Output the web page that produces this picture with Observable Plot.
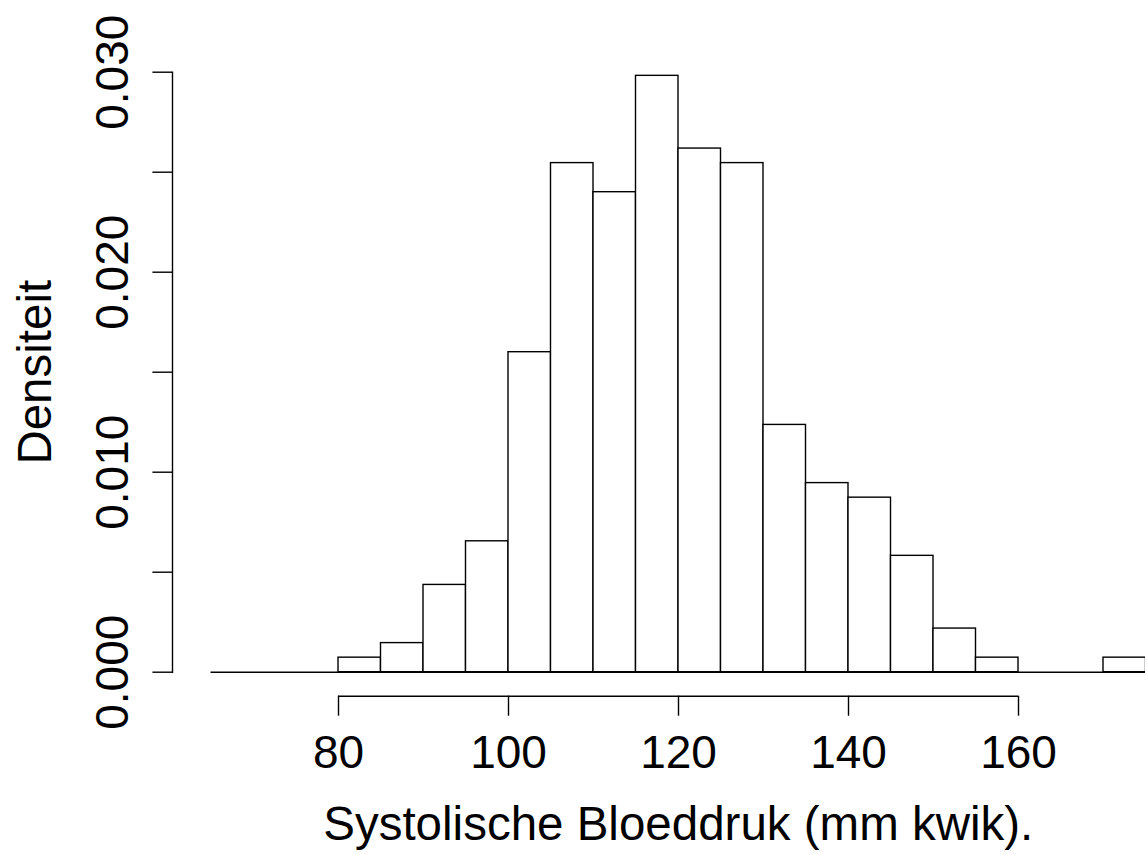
<!DOCTYPE html>
<html>
<head>
<meta charset="utf-8">
<script src="https://cdn.jsdelivr.net/npm/d3@7"></script>
<script src="https://cdn.jsdelivr.net/npm/@observablehq/plot@0.6"></script>
<style>
  html, body { margin: 0; padding: 0; background: #fff; }
  #chart svg { display: block; }
</style>
</head>
<body>
<div id="chart"></div>
<script>
// Histogram bins (mm kwik) and densities
const binLo = [65, 70, 75, 80, 85, 90, 95, 100, 105, 110, 115, 120, 125, 130, 135, 140, 145, 150, 155, 160, 165, 170];
const binHi = [70, 75, 80, 85, 90, 95, 100, 105, 110, 115, 120, 125, 130, 135, 140, 145, 150, 155, 160, 165, 170, 175];
const density = [0, 0, 0, 0.000727, 0.001455, 0.004364, 0.006545, 0.016000, 0.025455, 0.024000, 0.029818,
                 0.026182, 0.025455, 0.012364, 0.009455, 0.008727, 0.005818, 0.002182, 0.000727, 0, 0, 0.000727];
const xTicks = [80, 100, 120, 140, 160];
const yTicks = [0, 0.005, 0.010, 0.015, 0.020, 0.025, 0.030];
const yLabelTicks = [0, 0.010, 0.020, 0.030];
const xTitle = "Systolische Bloeddruk (mm kwik).";
const yTitle = "Densiteit";

const bins = binLo.map((lo, i) => ({lo, hi: binHi[i], d: density[i]}));
const font = "'Liberation Sans', Arial, Helvetica, sans-serif";
const fs = 46;
const fsTitle = 47.5;

const chart = Plot.plot({
  width: 1145,
  height: 855,
  marginLeft: 210.5,
  marginRight: 0,
  marginTop: 71.7,
  marginBottom: 183.3,
  style: {fontFamily: font, background: "white", color: "black", overflow: "visible"},
  x: {domain: [binLo[0], binHi[binHi.length - 1]], range: [210.5, 1145.5], axis: null},
  y: {domain: [0, 0.03], range: [671.7, 71.7], axis: null},
  marks: [
    // baseline of the histogram (also covers empty bins)
    Plot.ruleY([0], {x1: binLo[0], x2: binHi[binHi.length - 1], stroke: "black", strokeWidth: 1.4}),
    Plot.rect(bins.filter(b => b.d > 0), {x1: "lo", x2: "hi", y1: 0, y2: "d", fill: "white", stroke: "black", strokeWidth: 1.4}),
    // y axis line and ticks
    Plot.frame({anchor: "left", dx: -38.5, stroke: "black", strokeWidth: 1.4}),
    Plot.axisY({ticks: yTicks, tickSize: 19.6, dx: -38.5, tickFormat: () => "", stroke: "black", strokeWidth: 1.4, label: null}),
    Plot.text(yLabelTicks, {y: d => d, text: d => d.toFixed(3), frameAnchor: "left", dx: -83.5, rotate: -90,
      textAnchor: "middle", lineAnchor: "bottom", fontSize: fs, fill: "black"}),
    // x axis line and ticks
    Plot.ruleY([0], {x1: xTicks[0], x2: xTicks[xTicks.length - 1], dy: 24, stroke: "black", strokeWidth: 1.4}),
    Plot.axisX({ticks: xTicks, tickSize: 20, dy: 24, tickFormat: () => "", stroke: "black", strokeWidth: 1.4, label: null}),
    Plot.text(xTicks, {x: d => d, text: d => String(d), frameAnchor: "bottom", dy: 95.3,
      textAnchor: "middle", lineAnchor: "bottom", fontSize: fs, fill: "black"}),
    // axis titles
    Plot.text([xTitle], {text: d => d, frameAnchor: "bottom", dy: 167.3, textAnchor: "middle", lineAnchor: "bottom", fontSize: fsTitle, fill: "black"}),
    Plot.text([yTitle], {text: d => d, frameAnchor: "left", dx: -160.5, rotate: -90, textAnchor: "middle", lineAnchor: "bottom", fontSize: fsTitle, fill: "black"})
  ]
});
document.getElementById("chart").appendChild(chart);
</script>
</body>
</html>
